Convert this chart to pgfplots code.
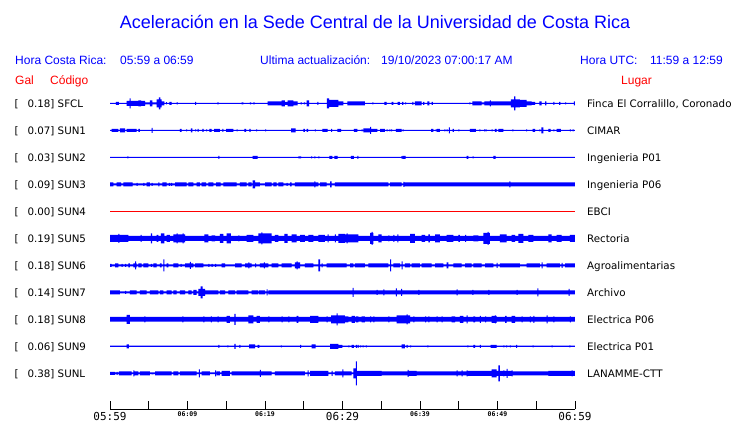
\documentclass[border=0pt]{standalone}
\usepackage{pgfplots}
\pgfplotsset{compat=1.18}
\usepackage{pgfplotstable}
\usepackage{fontspec}
\setmainfont{DejaVu Sans}
\newfontfamily\lib{Liberation Sans}
\newfontfamily\monof{DejaVu Sans Mono}
\definecolor{sblue}{RGB}{0,0,255}
\definecolor{sred}{RGB}{255,0,0}

% envelopes: t = minutes after 05:59, a = half-height of the trace (px)
\pgfplotstableread{
t a
0 0.5
0.77 1.5
1.16 0.5
2.15 2.5
2.54 5
2.67 2.5
3.66 3
4.00 2.5
4.52 1
5.16 3
5.46 1
6.02 4
6.30 6
6.49 4
6.67 2
7.01 0.5
7.23 1.2
7.35 0.5
7.66 1.5
7.96 0.5
8.60 1
8.75 0.5
10.97 1.5
11.12 0.5
13.85 1
14.00 0.5
16.99 1
17.20 0.5
18.06 1
18.20 0.5
18.49 1
18.65 0.5
20.34 2
22.15 3
22.58 1.5
22.92 3
23.66 2
24.22 0.5
24.60 1
24.75 0.5
25.03 1
25.18 0.5
25.38 3
25.68 0.5
26.75 1.5
26.90 0.5
28.00 5
28.26 3.5
29.46 2
30.11 0.5
30.62 2
32.90 0.5
33.85 1
34.00 0.5
35.40 1.5
35.70 0.5
36.35 1.5
36.55 0.5
37.12 1.5
37.40 0.5
37.68 1.5
37.85 0.5
38.07 1
38.20 0.5
39.01 1.5
39.15 0.5
39.35 2
40.22 0.5
40.40 1.5
40.55 0.5
40.95 2
41.20 0.5
41.51 1.5
41.65 0.5
46.37 1
46.50 0.5
46.75 2
47.95 1
48.30 2
49.03 3
49.15 2
51.74 4
52.13 7
52.30 4
52.90 3.5
53.76 2
54.41 1.5
54.84 0.5
55.40 2
55.70 0.5
56.13 2
56.30 0.5
57.20 1.5
57.35 0.5
57.94 1.5
58.10 0.5
58.71 1
58.85 0.5
59.87 2
60 2
}\tSFCL

\pgfplotstableread{
t a
0 0.5
0.22 1.5
1.08 0.5
1.29 2
1.94 0.5
2.15 1.5
3.44 0.5
3.66 1.5
3.87 0.5
5.38 2.5
5.51 0.5
9.03 1.5
9.25 0.5
9.81 1
9.94 0.5
10.45 2
10.62 0.5
10.97 1
11.10 0.5
11.31 1.5
11.45 0.5
11.91 1.5
12.09 0.5
12.39 1
12.52 0.5
12.82 1.5
13.12 0.5
13.42 1.5
14.19 0.5
14.49 1.5
14.62 0.5
14.97 1.5
15.91 0.5
16.34 1
16.47 0.5
17.33 1.5
17.55 0.5
17.98 1.5
18.15 0.5
18.84 1
18.97 0.5
20.00 1
20.13 0.5
23.36 2
23.96 0.5
24.95 1.5
25.16 0.5
25.38 1.5
25.55 0.5
26.45 1
26.58 0.5
27.40 1.5
28.09 0.5
28.52 1.5
28.65 0.5
29.33 1.5
29.81 0.5
31.48 1.5
31.91 0.5
32.47 1
32.60 0.5
32.69 2
33.55 3.5
33.68 1.5
34.49 0.5
34.84 1.5
35.48 0.5
35.70 1
35.83 0.5
36.04 1
36.17 0.5
36.26 1
36.39 0.5
36.90 1.5
37.63 0.5
37.76 1
37.89 0.5
41.42 1.5
41.72 0.5
42.02 1
42.15 0.5
42.19 1.5
42.58 0.5
43.14 1
43.27 0.5
43.44 1
43.57 0.5
43.74 3
43.87 0.5
44.21 1.5
44.38 0.5
44.94 1
45.07 0.5
46.45 1.5
47.22 0.5
47.65 1
47.78 0.5
48.26 1
48.39 0.5
48.47 1
48.60 0.5
49.24 1
49.37 0.5
49.67 1.5
49.89 0.5
50.10 1.5
50.75 0.5
51.91 1
52.04 0.5
53.68 1
53.81 0.5
54.54 1.5
54.84 0.5
55.40 1
55.53 0.5
55.65 3
55.91 0.5
56.56 1.5
56.86 0.5
57.20 1
57.33 0.5
57.63 1.5
58.19 0.5
59.35 1
59.48 0.5
59.70 1
59.83 0.5
60 0.5
}\tSUNa

\pgfplotstableread{
t a
0 0.5
2.24 1
2.37 0.5
13.98 1.5
14.11 0.5
18.41 1.5
19.05 0.5
24.30 1
24.65 0.5
25.94 1
26.07 0.5
26.37 1
26.50 0.5
26.88 1
27.01 0.5
28.30 1.5
28.69 0.5
28.95 1.5
29.38 0.5
31.09 1.5
31.48 0.5
31.91 1.5
32.04 0.5
37.55 1
37.68 0.5
37.72 1.5
38.15 0.5
46.02 1.5
46.23 0.5
46.79 1
46.92 0.5
49.46 1.5
49.76 0.5
60 0.5
}\tSUNb

\pgfplotstableread{
t a
0 2
0.43 1
0.86 2
1.42 1
1.72 2
2.92 1
3.44 1.5
3.57 1
4.30 1.5
4.43 1
4.73 2
5.16 1
5.38 1.5
5.51 1
6.24 2
6.37 1
6.75 2
7.31 1
7.61 1.5
7.74 1
7.87 1.5
8.00 1
8.39 2
9.89 1
10.11 2
10.75 1
11.18 2
11.61 1
11.83 2
12.39 1
12.69 2
13.33 1
13.68 2
14.28 1
14.62 2
16.34 1
16.77 2
17.63 1
17.85 2
18.28 1
18.41 4
18.71 2
19.35 1
20.00 2
20.86 1
21.08 2
21.51 1
21.72 2
22.37 1
22.80 1.5
22.93 1
23.23 2
23.44 1
23.87 2
26.37 3
26.50 2
26.88 1
27.10 2
27.96 1
28.39 3
28.60 1
29.03 2
35.91 1
36.13 2
37.63 1
37.85 2.5
37.98 2
51.52 3
51.65 2
60 2
}\tSUNc

\pgfplotstableread{
t a
0 3.5
1.08 4.5
1.21 3.5
2.37 2.5
3.96 3.5
4.09 2.5
5.29 5
5.42 2.5
6.02 3.5
6.24 2.5
6.58 5
7.01 2.5
7.31 3.5
7.74 2.5
8.17 4
8.60 5
8.73 4
9.38 5
9.51 4
9.68 2.5
12.17 4
12.69 2.5
13.12 3
13.55 2.5
14.19 4.5
14.62 2.5
15.05 5
15.61 2.5
16.56 3
16.69 2.5
17.63 3.5
18.49 2.5
19.14 5
19.53 6
19.66 5
20.86 2.5
21.29 3.5
21.72 2.5
22.49 4.5
22.92 2.5
23.44 4
24.09 2.5
24.52 3.5
25.16 2.5
25.59 3.5
26.24 2.5
26.88 3.5
27.74 2.5
28.09 4
28.22 2.5
29.03 4
29.16 2.5
29.46 4.5
30.32 4
30.54 5
30.67 4
32.04 2.5
33.55 5.5
33.76 6.5
33.89 5.5
33.98 2.5
34.62 4
35.05 2.5
35.91 3
36.04 2.5
36.56 3.5
36.69 2.5
37.08 4
37.21 2.5
38.71 4.5
39.35 2.5
40.22 3.5
40.65 2.5
41.08 4
41.29 2.5
41.94 4
42.58 2.5
43.44 3.5
44.30 2.5
44.95 3.5
45.16 2.5
45.81 3.5
45.94 2.5
46.88 3
47.53 2.5
48.17 5.5
48.73 6.5
48.86 5.5
49.03 2.5
50.32 4
51.18 2.5
51.83 3.5
52.26 2.5
52.69 4.5
53.33 2.5
53.98 3.5
54.62 2.5
56.56 4
56.99 2.5
57.63 3.5
58.28 2.5
59.35 3.5
60 3.5
}\tSUNe

\pgfplotstableread{
t a
0 1.5
0.22 1
0.65 2
1.08 1
1.51 1.5
1.64 1
1.94 1.5
2.07 1
2.37 2
2.58 1
3.01 2
3.23 4
3.36 2
3.44 1
3.66 2
4.09 1
4.30 2
4.95 1
5.29 1.5
5.42 1
5.59 2
6.02 1
6.45 2
6.67 1
6.88 6
7.01 1
7.31 2
7.53 1
8.17 2
8.82 1
9.12 1.5
9.25 1
9.68 2
10.32 3.5
10.45 2
10.75 1
10.97 2
12.04 1
12.69 1.5
12.82 1
13.12 1.5
13.25 1
13.55 1.5
13.68 1
14.41 2
14.84 1
16.13 2
16.99 1
17.42 2
17.85 3
17.98 2
18.28 1
18.71 2
18.84 1
19.35 2
19.84 3
19.97 2
20.43 1
20.86 2
21.72 1
22.15 2
23.44 1
23.87 3
24.09 4
24.22 3
24.52 1
25.16 2
26.24 1
26.88 6
27.10 1
27.31 2
27.44 1
27.96 2
30.54 1
30.97 2
31.40 1
31.61 2
32.90 1
33.33 2
35.91 1
36.13 6
36.26 1
36.56 2
37.42 1
37.63 4
37.76 1
38.06 2
38.71 1
38.92 2
40.00 1
40.22 2
41.51 1
41.94 2
43.01 1
43.44 3
43.66 1
44.30 2
45.38 1
45.81 2
46.67 1
46.88 2
47.96 1
48.39 2
49.46 1
49.89 2.5
50.02 1
50.32 2
52.90 1
53.76 2
55.48 1
55.70 3
55.83 1
56.34 2
58.06 1
58.28 2.5
58.41 1
58.71 2
60 2
}\tSUNf

\pgfplotstableread{
t a
0 2
1.29 1
1.94 1.5
2.07 1
2.58 2
3.44 1
3.87 2
4.73 1
5.16 2
6.24 1
6.45 2
6.88 1
7.31 2
7.96 1
8.17 2
8.60 1
9.03 2
9.68 1
10.11 2
10.54 1
10.75 2.5
11.18 1
11.40 3.5
11.70 6
11.96 3.5
12.26 2
13.98 1
14.19 2
14.84 1
15.27 2
16.13 1
16.34 2
17.85 1
18.28 2
19.14 1
19.25 2
20.00 1
20.22 3
20.35 1
20.43 2
31.31 4.5
31.44 2
34.41 2.5
34.54 2
35.27 3
35.40 2
36.90 4
37.03 2
37.55 3.5
37.68 2
39.78 2.5
39.91 2
44.71 3
44.84 2
46.75 2.5
46.88 2
48.82 2.5
48.95 2
52.47 2.5
52.60 2
55.14 4
55.27 2
59.18 3.5
59.31 2
60 2
}\tSUNg

\pgfplotstableread{
t a
0 2.3
2.15 4.5
2.58 2.3
4.43 3
4.56 2.3
9.33 3
9.46 2.3
12.04 3
12.17 2.3
13.03 3
13.16 2.3
13.89 3
14.02 2.3
15.05 3.5
15.48 2.3
16.04 5.5
16.22 2.3
17.85 4
18.49 2.3
18.92 3.5
19.35 2.3
20.43 3
20.56 2.3
22.15 3
22.28 2.3
23.01 3
23.14 2.3
24.09 3.5
24.30 2.3
25.81 3.5
26.88 2.3
27.96 3
28.09 2.3
28.52 4
29.25 6
29.38 4
30.32 3
30.75 2.3
31.18 3.5
31.61 2.3
31.74 3
32.04 2.3
32.47 3
32.90 2.3
33.55 3
33.68 2.3
33.98 3
34.11 2.3
35.91 3
36.04 2.3
36.99 4
38.28 5
38.41 4
38.71 2.3
39.14 3
39.27 2.3
40.65 3
40.78 2.3
41.08 3
41.21 2.3
42.15 3
42.28 2.3
42.80 3
42.93 2.3
44.09 3
44.52 2.3
45.16 3.5
45.59 2.3
46.02 4
46.15 2.3
46.88 3
47.10 2.3
47.74 3.5
47.87 2.3
48.39 3
48.52 2.3
49.24 3.5
49.67 4
49.80 3.5
49.89 2.3
50.97 3.5
51.18 2.3
51.83 3.5
52.26 2.3
53.12 3
53.25 2.3
54.19 3
54.32 2.3
54.62 3.5
54.75 2.3
56.34 4
56.47 2.3
57.20 3
57.33 2.3
59.35 3
59.48 2.3
60 2.3
}\tSUNh

\pgfplotstableread{
t a
0 0.6
2.15 2
2.45 0.6
13.98 1.5
14.11 0.6
15.14 1
15.27 0.6
16.04 2.5
16.22 0.6
16.69 1.5
16.82 0.6
17.94 2
18.71 0.6
19.05 1.5
19.27 0.6
22.06 1
22.19 0.6
24.52 1.5
24.65 0.6
26.02 2
26.54 0.6
28.39 2.5
29.46 1.5
30.00 0.6
30.75 1
30.88 0.6
31.18 1.5
31.48 0.6
31.74 1.5
31.87 0.6
31.96 1.5
32.09 0.6
32.26 1
32.39 0.6
32.60 1
32.73 0.6
33.03 1
33.16 0.6
37.63 2
38.06 0.6
38.28 1.5
38.41 0.6
38.71 1
38.84 0.6
40.95 1
41.08 0.6
46.11 1
46.24 0.6
46.88 1.5
47.10 0.6
47.74 1.5
47.87 0.6
49.11 1.5
49.89 0.6
50.75 1
50.88 0.6
51.10 1
51.23 0.6
51.61 1
51.74 0.6
52.39 1.5
52.52 0.6
54.54 1
54.67 0.6
56.99 1
57.12 0.6
59.27 1
59.40 0.6
60 0.6
}\tSUNi

\pgfplotstableread{
t a
0 1.5
0.65 0.8
0.86 1.5
0.99 0.8
1.16 2
2.80 0.8
3.01 3
3.14 2
3.66 0.8
3.87 2
5.16 0.8
5.38 1
5.59 0.8
5.81 2
7.96 0.8
8.17 2
8.82 0.8
9.03 2
11.18 0.8
11.48 4
11.61 0.8
11.83 2
12.90 0.8
13.55 3
13.68 0.8
13.76 2
14.19 0.8
14.41 2.5
15.48 0.8
15.70 2
19.35 3.5
19.48 2
20.86 0.8
21.29 2
25.16 0.8
25.51 3
25.64 0.8
25.81 2.5
28.17 0.8
28.60 2.5
28.73 0.8
29.03 2
29.98 4
30.11 2
31.18 0.8
31.40 5
31.74 12
31.87 2.5
35.05 2
38.41 3.5
38.54 2.5
39.57 2
44.73 3
44.86 2
45.38 3
45.51 2
46.02 3
46.15 2.5
49.24 4
49.89 2.5
50.10 8
50.32 2.5
50.75 3
50.88 2.5
51.18 4.5
51.31 2.5
51.83 3
51.96 2
56.56 2.5
59.57 3
59.70 2.5
60 2.5
}\tSUNL

\pgfplotsset{tr/.style={scale only axis, width=465pt, height=30pt,
  xmin=0, xmax=60, ymin=-15, ymax=15, hide axis, clip=false, anchor=west}}

\newcommand{\trace}[2]{%
  \begin{axis}[tr, at={(110pt,#1pt)}]
  \addplot[const plot, fill=sblue, draw=none] table[x=t, y=a] {#2} \closedcycle;
  \addplot[const plot, fill=sblue, draw=none] table[x=t, y expr=-\thisrow{a}] {#2} \closedcycle;
  \addplot[sblue, line width=0.9pt] coordinates {(0,0) (60,0)};
  \end{axis}}

\newcommand{\bigt}[1]{{\monof\fontsize{11}{12}\selectfont #1}}
\newcommand{\smallt}[1]{{\monof\bfseries\fontsize{6.5}{7}\selectfont #1}}

\begin{document}
\begin{tikzpicture}[x=1pt,y=1pt]
\useasboundingbox (0,0) rectangle (740,423);

% time axis
\begin{axis}[
  at={(110pt,13.7pt)}, anchor=south west,
  scale only axis, width=465pt, height=20pt,
  xmin=0, xmax=60, ymin=0, ymax=1,
  axis lines*=left, hide y axis,
  x axis line style={-, line width=0.9pt, black},
  xtick={0,10,20,30,40,50,60},
  minor xtick={5,15,25,35,45,55},
  xticklabels={\bigt{05:59},\smallt{06:09},\smallt{06:19},\bigt{06:29},\smallt{06:39},\smallt{06:49},\bigt{06:59}},
  tick align=inside,
  major tick length=8.5pt, minor tick length=8.5pt,
  every tick/.style={black, line width=0.9pt},
  xticklabel style={anchor=north, inner sep=0pt, yshift=-2.5pt},
]
\addplot[draw=none] coordinates {(0,0) (60,0)};
\end{axis}

\trace{319.7}{\tSFCL}
\trace{292.7}{\tSUNa}
\trace{265.7}{\tSUNb}
\trace{238.7}{\tSUNc}
\begin{axis}[tr, at={(110pt,211.7pt)}]
\addplot[sred, line width=0.9pt] coordinates {(0,0) (60,0)};
\end{axis}
\trace{184.7}{\tSUNe}
\trace{157.7}{\tSUNf}
\trace{130.7}{\tSUNg}
\trace{103.7}{\tSUNh}
\trace{76.7}{\tSUNi}
\trace{49.7}{\tSUNL}

% title and header
\node[anchor=base, inner sep=0pt, text=sblue] at (375,394.5) {\lib\fontsize{18}{20}\selectfont Aceleración en la Sede Central de la Universidad de Costa Rica};
\begin{scope}[every node/.style={anchor=base west, inner sep=0pt, text=sblue, font=\lib\fontsize{12}{14}\selectfont}]
\node at (15,358.7) {Hora Costa Rica:};
\node at (120,358.7) {05:59 a 06:59};
\node at (260,358.7) {Ultima actualización:};
\node at (381,358.7) {19/10/2023 07:00:17 AM};
\node at (580,358.7) {Hora UTC:};
\node at (650,358.7) {11:59 a 12:59};
\end{scope}
\begin{scope}[every node/.style={anchor=base west, inner sep=0pt, text=sred, font=\lib\fontsize{12}{14}\selectfont}]
\node at (15,338.7) {Gal};
\node at (50,338.7) {Código};
\node at (621,338.7) {Lugar};
\end{scope}

% station labels
\begin{scope}[every node/.style={anchor=base west, inner sep=0pt, font=\fontsize{10.3}{12}\selectfont}]
\foreach \Y/\V/\C/\L in {315.95/0.18/SFCL/{Finca El Corralillo, Coronado},
                         288.95/0.07/SUN1/CIMAR,
                         261.95/0.03/SUN2/Ingenieria P01,
                         234.95/0.09/SUN3/Ingenieria P06,
                         207.95/0.00/SUN4/EBCI,
                         180.95/0.19/SUN5/Rectoria,
                         153.95/0.18/SUN6/Agroalimentarias,
                         126.95/0.14/SUN7/Archivo,
                         99.95/0.18/SUN8/Electrica P06,
                         72.95/0.06/SUN9/Electrica P01,
                         45.95/0.38/SUNL/LANAMME-CTT}{
  \node at (14.5,\Y) {[};
  \node at (27.3,\Y) {\V] \C};
  \node at (587,\Y) {\L};
}
\end{scope}
\end{tikzpicture}
\end{document}
